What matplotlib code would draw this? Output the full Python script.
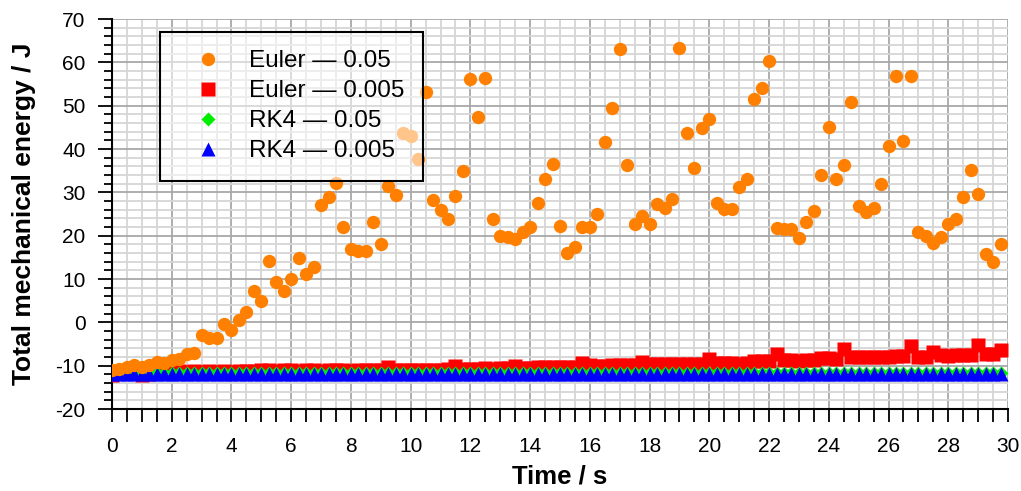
import numpy as np
import matplotlib
matplotlib.use("Agg")
from matplotlib import pyplot as plt
from matplotlib.ticker import MultipleLocator

# tempo (s), amostrado a cada 0.25 s
t = np.arange(120) * 0.25

# Euler, dt = 0.05
euler_05 = [-11.0, -10.8, -10.4, -9.8, -10.2, -9.9, -9.1, -9.4, -8.7, -8.5,
            -7.2, -7.0, -2.9, -3.5, -3.7, -0.4, -1.8, 0.5, 2.5, 7.3,
            5.0, 14.2, 9.2, 7.3, 9.9, 14.8, 11.1, 12.8, 27.0, 29.0,
            32.1, 22.1, 17.0, 16.5, 16.5, 23.2, 18.0, 31.5, 29.4, 43.6,
            43.0, 37.8, 53.2, 28.2, 25.9, 23.8, 29.2, 34.9, 56.1, 47.3,
            56.5, 23.8, 20.0, 19.8, 19.2, 20.8, 22.1, 27.6, 33.1, 36.5,
            22.3, 15.9, 17.5, 22.1, 22.1, 25.0, 41.7, 49.4, 63.0, 36.3,
            22.6, 24.5, 22.6, 27.3, 26.3, 28.5, 63.2, 43.8, 35.7, 44.8,
            47.0, 27.6, 26.2, 26.2, 31.3, 33.1, 51.5, 54.0, 60.3, 21.7,
            21.5, 21.5, 19.4, 23.2, 25.8, 34.0, 45.0, 33.1, 36.3, 50.8,
            26.8, 25.5, 26.5, 31.9, 40.7, 56.8, 41.8, 56.8, 20.9, 19.9,
            18.2, 19.8, 22.8, 23.8, 29.0, 35.2, 29.6, 15.7, 13.9, 18.0]

# Euler, dt = 0.005
euler_005 = [-12.1, -11.8, -11.6, -11.5, -12.1, -11.9, -11.4, -11.5, -11.4, -11.3,
             -11.4, -11.3, -11.4, -11.3, -11.4, -11.3, -11.4, -11.3, -11.3, -11.2,
             -11.0, -11.1, -11.2, -11.1, -11.1, -11.2, -11.1, -11.1, -11.2, -11.1,
             -11.1, -11.1, -11.2, -11.1, -11.1, -11.0, -11.1, -10.4, -11.0, -11.0,
             -10.9, -11.0, -10.9, -10.9, -10.9, -10.8, -10.1, -10.7, -10.7, -10.7,
             -10.6, -10.7, -10.6, -10.6, -10.0, -10.5, -10.5, -10.4, -10.4, -10.4,
             -10.3, -10.3, -10.3, -9.4, -9.9, -10.0, -10.0, -9.9, -9.9, -9.9,
             -9.8, -9.2, -9.7, -9.7, -9.7, -9.7, -9.7, -9.7, -9.6, -9.6,
             -8.5, -9.4, -9.4, -9.4, -9.5, -9.3, -9.0, -9.0, -9.0, -7.3,
             -8.8, -8.8, -8.9, -8.8, -8.6, -8.3, -8.3, -8.4, -6.2, -8.0,
             -8.0, -8.1, -8.0, -7.9, -7.9, -7.8, -7.8, -5.5, -7.9, -7.9,
             -6.8, -7.6, -7.7, -7.6, -7.5, -7.5, -5.2, -7.4, -7.4, -6.4]

# RK4, dt = 0.05
rk4_05 = [-11.6, -11.6, -11.6, -11.6, -11.6, -11.6, -11.6, -11.6, -11.6, -11.6,
          -11.6, -11.6, -11.6, -11.6, -11.6, -11.6, -11.6, -11.6, -11.6, -11.6,
          -11.6, -11.6, -11.6, -11.6, -11.6, -11.6, -11.6, -11.6, -11.6, -11.6,
          -11.6, -11.6, -11.6, -11.6, -11.6, -11.6, -11.6, -11.6, -11.6, -11.6,
          -11.6, -11.6, -11.6, -11.6, -11.6, -11.6, -11.6, -11.6, -11.6, -11.6,
          -11.6, -11.6, -11.6, -11.6, -11.6, -11.6, -11.6, -11.6, -11.6, -11.6,
          -11.6, -11.6, -11.6, -11.6, -11.6, -11.6, -11.6, -11.6, -11.6, -11.6,
          -11.6, -11.6, -11.6, -11.6, -11.6, -11.6, -11.6, -11.6, -11.6, -11.6,
          -11.6, -11.6, -11.6, -11.6, -11.6, -11.6, -11.6, -11.6, -11.6, -11.6,
          -11.6, -11.6, -11.6, -11.6, -11.6, -11.6, -11.6, -11.6, -11.6, -11.6,
          -11.6, -11.6, -11.6, -11.6, -11.6, -11.6, -11.6, -11.6, -11.6, -11.6,
          -11.6, -11.6, -11.6, -11.6, -11.6, -11.6, -11.6, -11.6, -11.6, -11.6]

# RK4, dt = 0.005
rk4_005 = [-11.9, -11.9, -11.9, -11.9, -11.9, -11.9, -11.9, -11.9, -11.9, -11.9,
           -11.9, -11.9, -11.9, -11.9, -11.9, -11.9, -11.9, -11.9, -11.9, -11.9,
           -11.9, -11.9, -11.9, -11.9, -11.9, -11.9, -11.9, -11.9, -11.9, -11.9,
           -11.9, -11.9, -11.9, -11.9, -11.9, -11.9, -11.9, -11.9, -11.9, -11.9,
           -11.9, -11.9, -11.9, -11.9, -11.9, -11.9, -11.9, -11.9, -11.9, -11.9,
           -11.9, -11.9, -11.9, -11.9, -11.9, -11.9, -11.9, -11.9, -11.9, -11.9,
           -11.9, -11.9, -11.9, -11.9, -11.9, -11.9, -11.9, -11.9, -11.9, -11.9,
           -11.9, -11.9, -11.9, -11.9, -11.9, -11.9, -11.9, -11.9, -11.9, -11.9,
           -11.9, -11.9, -11.9, -11.9, -11.9, -11.9, -11.9, -11.9, -11.9, -11.9,
           -11.9, -11.9, -11.9, -11.9, -11.9, -11.9, -11.9, -11.9, -11.9, -11.9,
           -11.9, -11.9, -11.9, -11.9, -11.9, -11.9, -11.9, -11.9, -11.9, -11.9,
           -11.9, -11.9, -11.9, -11.9, -11.9, -11.9, -11.9, -11.9, -11.9, -11.9]

labels = ["Euler \u2014 0.05", "Euler \u2014 0.005", "RK4 \u2014 0.05", "RK4 \u2014 0.005"]

plt.rcParams['font.family'] = ['Liberation Sans', 'DejaVu Sans']
plt.rcParams['axes.unicode_minus'] = False

fig = plt.figure(figsize=(10.21, 4.91), dpi=100)
ax = fig.add_axes([0.1097, 0.167, 0.8776, 0.7943])

# ordem de desenho: vermelho, verde, azul, laranja por cima
h2, = ax.plot(t, euler_005, 's', color='#ff0000', ms=10, mec='none', zorder=3)
h3, = ax.plot(t, rk4_05, 'D', color='#00ee00', ms=6.8, mec='none', zorder=4)
h4, = ax.plot(t, rk4_005, '^', color='#0000ff', ms=10.3, mec='none', zorder=5)
h1, = ax.plot(t, euler_05, 'o', color='#ff8000', ms=9.6, mec='none', zorder=6)

ax.set_xlim(0, 30)
ax.set_ylim(-20, 70)
ax.xaxis.set_major_locator(MultipleLocator(2))
ax.xaxis.set_minor_locator(MultipleLocator(0.5))
ax.yaxis.set_major_locator(MultipleLocator(10))
ax.yaxis.set_minor_locator(MultipleLocator(2))

ax.grid(which='minor', color='#d6d6d6', linewidth=1.3, zorder=0)
ax.grid(which='major', color='#a8a8a8', linewidth=1.3, zorder=0)
ax.set_axisbelow(True)

for s in ['top', 'right']:
    ax.spines[s].set_visible(False)
for s in ['left', 'bottom']:
    ax.spines[s].set_linewidth(1.5)

ax.tick_params(axis='x', which='major', length=9, width=1.3, labelsize=15, pad=11)
ax.tick_params(axis='x', which='minor', length=9, width=1.3)
ax.tick_params(axis='y', which='major', length=10, width=1.3, labelsize=15, pad=9)
ax.tick_params(axis='y', which='minor', length=6, width=1.3)

ax.set_xlabel("Time / s", fontsize=18.5, fontweight='bold', labelpad=6)
ax.set_ylabel("Total mechanical energy / J", fontsize=19, fontweight='bold', labelpad=14)

leg = ax.legend([h1, h2, h3, h4], labels, loc='upper left',
                bbox_to_anchor=(0.0536, 0.9667), borderaxespad=0,
                fontsize=17.5, fancybox=False, edgecolor='black',
                handlelength=2.47, handletextpad=0.45, labelspacing=0.33,
                borderpad=0.75)
frame = leg.get_frame()
frame.set_facecolor((1, 1, 1, 0.55))
frame.set_edgecolor((0, 0, 0, 1))
frame.set_alpha(None)
frame.set_linewidth(1.5)
leg.set_zorder(10)

fig.savefig("out.png", dpi=100)
